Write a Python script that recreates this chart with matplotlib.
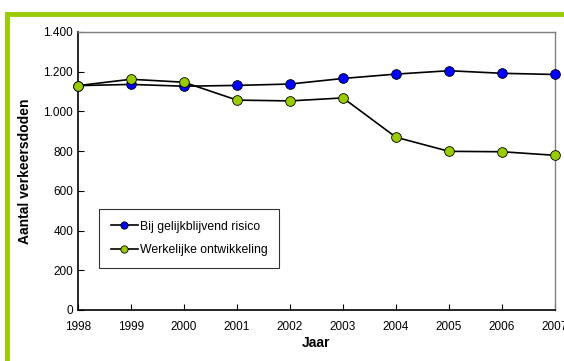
import matplotlib.pyplot as plt
import matplotlib.patches as patches
from matplotlib.ticker import FuncFormatter

plt.rcParams['font.family'] = ['Liberation Sans', 'DejaVu Sans']

years = [1998, 1999, 2000, 2001, 2002, 2003, 2004, 2005, 2006, 2007]
constant_risk = [1130, 1136, 1127, 1131, 1138, 1166, 1188, 1205, 1192, 1186]
actual = [1130, 1162, 1147, 1057, 1053, 1068, 870, 799, 797, 779]

green = '#99cc00'
blue = '#0000ff'

fig = plt.figure(figsize=(5.64, 3.61), dpi=100)

# green frame (top and left edges visible)
fig.patches.append(patches.Rectangle((7/564, -0.1), 2.0, (361-14)/361 + 0.1,
                                     transform=fig.transFigure, fill=False,
                                     edgecolor=green, lw=3.5))

ax = fig.add_axes([78/564, 1 - 310/361, (555-78)/564, (310-32)/361])
ax.plot(years, constant_risk, color='black', lw=1.2, marker='o', ms=7,
        mfc=blue, mec='black', mew=0.6, label='Bij gelijkblijvend risico', clip_on=False, zorder=3)
ax.plot(years, actual, color='black', lw=1.2, marker='o', ms=7,
        mfc=green, mec='black', mew=0.6, label='Werkelijke ontwikkeling', clip_on=False, zorder=4)

ax.set_xlim(1998, 2007)
ax.set_ylim(0, 1400)
ax.set_xticks(years)
ax.set_yticks(range(0, 1401, 200))
ax.yaxis.set_major_formatter(FuncFormatter(lambda v, p: f"{int(v):,}".replace(',', '.')))
ax.tick_params(direction='in', labelsize=8.5, length=4, width=0.8)
ax.tick_params(axis='x', pad=8)
for s in ['left', 'bottom']:
    ax.spines[s].set_color('black')
    ax.spines[s].set_linewidth(1.2)
for s in ['top', 'right']:
    ax.spines[s].set_color('#808080')
    ax.spines[s].set_linewidth(1.0)

ax.set_xlabel('Jaar', fontsize=10, fontweight='bold', labelpad=2)
ax.set_ylabel('Aantal verkeersdoden', fontsize=10, fontweight='bold', labelpad=8)

leg = ax.legend(loc='upper left', bbox_to_anchor=(21/477, 1 - 177/278), fontsize=8.8,
                frameon=True, fancybox=False, edgecolor='black', handlelength=2.2,
                handletextpad=0.2, borderpad=0.95, labelspacing=0.95, markerscale=0.75,
                borderaxespad=0)
leg.get_frame().set_linewidth(0.8)

fig.savefig('out.png', dpi=100)
